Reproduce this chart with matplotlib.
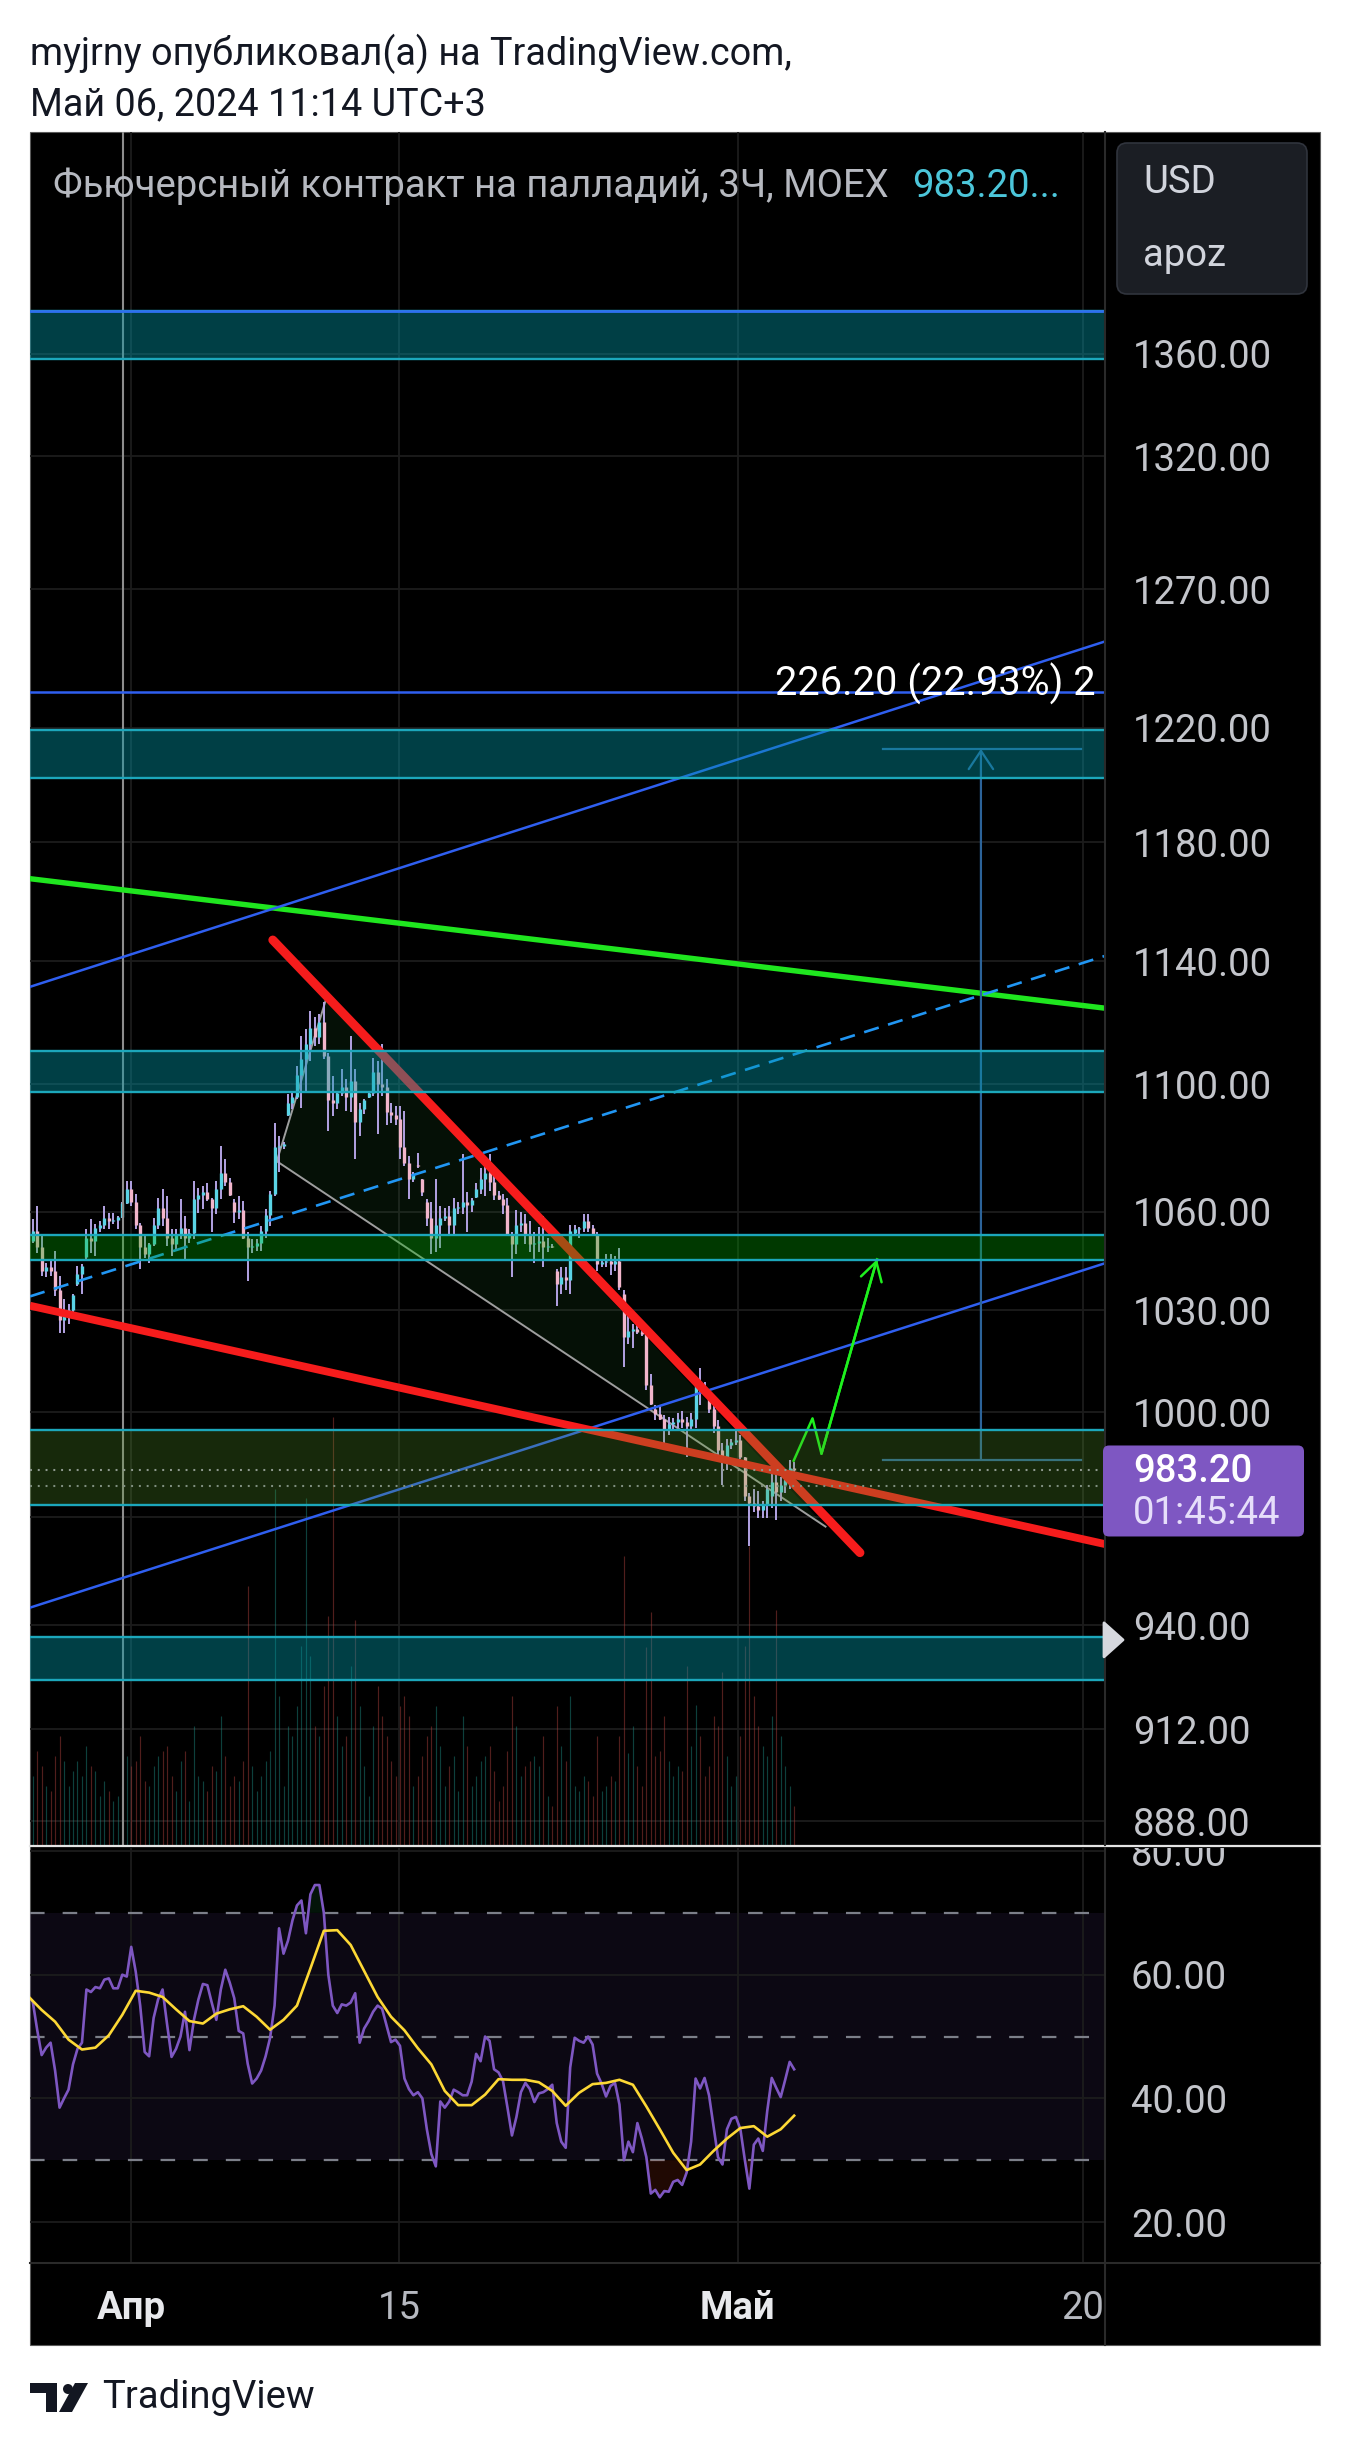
import numpy as np
import matplotlib
matplotlib.use("Agg")
import matplotlib.pyplot as plt
from matplotlib.patches import FancyBboxPatch, Polygon, Rectangle, Circle
from matplotlib.transforms import IdentityTransform
from matplotlib.ticker import NullLocator

plt.rcParams['font.family'] = ['Roboto', 'DejaVu Sans']
plt.rcParams['lines.scale_dashes'] = False

# ---------------- data ----------------
opens = [1051, 1054, 1049, 1042, 1043, 1042, 1036, 1027, 1029, 1030,
         1038, 1041, 1046, 1052, 1051, 1055, 1056, 1058, 1057, 1057.5,
         1058.3, 1062.5, 1067, 1063, 1056, 1049, 1047, 1050, 1056, 1061,
         1058, 1052, 1050, 1053, 1055, 1052, 1053.5, 1064, 1065, 1066,
         1064, 1061, 1067, 1072, 1069, 1063, 1060, 1060.5, 1052, 1049,
         1049.5, 1050.5, 1054, 1059, 1065.5, 1080, 1080.5, 1090, 1094, 1096,
         1103, 1108, 1113, 1118, 1115, 1120, 1109, 1095, 1094, 1097,
         1099, 1096, 1101, 1088, 1092, 1095.8, 1097, 1104, 1100, 1099,
         1091, 1090, 1089, 1080, 1075, 1070, 1074.5, 1070, 1063, 1058,
         1052, 1056, 1058, 1058.5, 1056, 1061, 1061.5, 1063, 1062, 1064.5,
         1067, 1070, 1072, 1069, 1065, 1064, 1062, 1053, 1050, 1056,
         1056.5, 1053, 1050, 1050.5, 1051, 1049, 1049.5, 1042, 1038, 1040,
         1039, 1053.5, 1054.5, 1054.8, 1057, 1055, 1053.2, 1044, 1044.5, 1045,
         1044, 1045, 1035, 1022, 1024, 1024.5, 1023.5, 1023, 1008, 1001,
         999.5, 998, 995, 996.5, 997, 998, 997, 996, 998, 1008,
         1007, 1004, 1001, 996, 989, 986, 990.5, 991.5, 992, 987,
         976, 974, 973, 972, 973.5, 976, 980, 977, 979, 980.5, 984]
highs = [1057.6, 1061.7, 1052.5, 1044.4, 1044.9, 1047.9, 1040.4, 1033.3, 1031.8, 1034.8,
         1043.4, 1043.9, 1054.6, 1057.6, 1056.1, 1057.1, 1061.7, 1059.6, 1059.6, 1058.6,
         1062.8, 1069.5, 1069.5, 1065.4, 1056.6, 1052.5, 1050.5, 1058.1, 1064.3, 1066.9,
         1064.8, 1054.6, 1054.6, 1063.8, 1058.6, 1054.6, 1069.5, 1067.4, 1067.9, 1068.9,
         1064.3, 1069.5, 1080.4, 1076.4, 1070.5, 1063.8, 1064.8, 1063.3, 1053.6, 1051.5,
         1051.5, 1055.6, 1060.7, 1066.4, 1087.7, 1083.5, 1081.5, 1096.8, 1097.3, 1105.9,
         1115.6, 1117.7, 1123.7, 1121.5, 1122.6, 1126.4, 1110.1, 1102.7, 1097.3, 1104.8,
         1101.6, 1115.6, 1104.8, 1094.1, 1095.2, 1097.3, 1108.5, 1107.4, 1112.8, 1101.6,
         1094.1, 1093.0, 1093.0, 1091.5, 1077.2, 1072.1, 1078.3, 1070.0, 1063.8, 1062.9,
         1070.0, 1061.7, 1061.1, 1061.7, 1064.1, 1062.9, 1077.8, 1065.9, 1064.1, 1068.9,
         1073.6, 1074.8, 1077.8, 1071.2, 1066.5, 1065.3, 1064.1, 1053.6, 1060.5, 1059.9,
         1059.3, 1057.0, 1053.6, 1055.3, 1058.7, 1051.8, 1050.0, 1042.5, 1043.0, 1043.0,
         1055.9, 1055.9, 1055.3, 1059.3, 1059.3, 1055.9, 1053.6, 1045.3, 1047.0, 1047.0,
         1046.5, 1048.8, 1036.0, 1029.2, 1025.8, 1026.4, 1024.7, 1023.5, 1011.1, 1002.0,
         1002.0, 999.3, 998.7, 998.2, 999.8, 1000.4, 998.7, 999.8, 1010.5, 1012.8,
         1008.8, 1004.3, 1003.2, 997.6, 991.1, 992.2, 992.2, 994.4, 993.3, 987.2,
         976.8, 977.9, 977.3, 974.6, 979.0, 984.4, 982.8, 981.2, 981.7, 986.1, 985.5]
lows = [1050.5, 1047.4, 1040.4, 1039.9, 1040.4, 1034.3, 1023.4, 1023.4, 1025.8, 1028.8,
        1037.3, 1034.8, 1045.4, 1047.4, 1046.4, 1053.6, 1054.6, 1054.6, 1056.1, 1054.6,
        1058.1, 1062.3, 1061.7, 1054.6, 1042.4, 1045.9, 1044.4, 1049.5, 1054.6, 1055.6,
        1049.5, 1046.4, 1048.4, 1051.5, 1044.9, 1050.5, 1051.5, 1059.6, 1060.7, 1063.3,
        1053.6, 1059.1, 1063.8, 1067.9, 1064.8, 1056.6, 1057.6, 1051.5, 1038.9, 1047.4,
        1047.9, 1047.9, 1052.0, 1055.6, 1064.8, 1072.1, 1079.4, 1089.9, 1092.0, 1095.2,
        1092.5, 1097.3, 1107.4, 1112.3, 1112.8, 1108.0, 1085.2, 1089.9, 1092.0, 1096.3,
        1091.5, 1091.0, 1076.2, 1083.5, 1090.4, 1095.7, 1096.3, 1084.1, 1096.3, 1087.1,
        1087.6, 1087.1, 1076.2, 1074.1, 1063.8, 1069.0, 1073.6, 1064.8, 1055.6, 1047.0,
        1047.6, 1048.8, 1057.0, 1052.9, 1052.9, 1059.3, 1059.3, 1053.6, 1059.9, 1064.1,
        1065.3, 1064.7, 1066.5, 1063.5, 1063.5, 1059.3, 1052.4, 1040.1, 1047.0, 1053.6,
        1050.0, 1047.6, 1044.2, 1047.6, 1043.0, 1047.6, 1048.8, 1031.4, 1034.9, 1036.0,
        1034.9, 1052.4, 1051.8, 1053.6, 1053.6, 1052.9, 1041.9, 1043.0, 1043.0, 1040.7,
        1041.9, 1036.0, 1013.3, 1020.1, 1018.9, 1022.9, 1022.4, 1006.6, 1002.0, 997.6,
        997.6, 991.1, 993.3, 994.4, 995.5, 995.5, 987.2, 995.0, 995.5, 1002.0,
        1005.5, 999.8, 993.9, 985.5, 979.0, 983.4, 989.4, 990.6, 986.6, 974.6,
        961.8, 971.4, 969.8, 969.8, 969.8, 972.5, 969.3, 974.6, 976.8, 977.9, 982.3]
closes = [1054, 1049, 1042, 1043, 1042, 1036, 1027, 1029, 1030, 1034.5,
          1041, 1043.5, 1052, 1051, 1055, 1056, 1058, 1057, 1057.5, 1058.3,
          1062.5, 1067, 1063, 1056, 1049, 1047, 1050, 1056, 1061, 1058,
          1052, 1050, 1053, 1055, 1052, 1053.5, 1064, 1065, 1066, 1064,
          1061, 1067, 1072, 1069, 1065, 1060, 1060.5, 1052, 1049, 1049.5,
          1050.5, 1054, 1059, 1065.5, 1080, 1080.5, 1081, 1094, 1096, 1103,
          1108, 1113, 1118, 1115, 1120, 1109, 1095, 1094, 1097, 1099,
          1096, 1101, 1088, 1092, 1095, 1097, 1104, 1100, 1099, 1091,
          1090, 1089, 1080, 1075, 1070, 1071.5, 1074, 1066, 1058, 1052,
          1056, 1058, 1058.5, 1056, 1061, 1061.5, 1063, 1062, 1063.5, 1067,
          1070, 1072, 1069, 1065, 1064, 1062, 1053, 1050, 1056, 1056.5,
          1053, 1050, 1050.5, 1051, 1049, 1049.5, 1049, 1038, 1040, 1039,
          1054, 1054.5, 1054.8, 1057, 1055, 1053.2, 1044, 1044.5, 1045, 1044,
          1045, 1037, 1022, 1024, 1024.5, 1023.5, 1023, 1008, 1002.5, 999.5,
          998, 995, 996.5, 997, 998, 997, 996, 998, 1008, 1007,
          1005.6, 1001, 996, 989, 986, 990.5, 991.5, 992, 987, 976,
          974, 973, 972, 973.5, 978, 980, 977, 979, 980.5, 984, 983.2]
volumes = [70, 95, 80, 60, 55, 90, 110, 85, 60, 75,
           85, 70, 100, 80, 75, 50, 65, 55, 45, 50,
           60, 90, 80, 85, 110, 65, 60, 80, 90, 95,
           100, 70, 55, 85, 95, 45, 120, 70, 65, 55,
           80, 75, 130, 90, 60, 70, 65, 85, 260, 80,
           55, 70, 85, 95, 357, 150, 60, 120, 110, 140,
           200, 348, 190, 120, 110, 160, 230, 429, 130, 100,
           110, 180, 226, 140, 80, 50, 120, 160, 130, 110,
           85, 70, 140, 150, 130, 60, 70, 90, 110, 120,
           140, 100, 60, 80, 90, 55, 130, 100, 60, 70,
           85, 90, 100, 75, 45, 60, 95, 150, 120, 70,
           80, 85, 90, 80, 110, 50, 40, 140, 100, 85,
           150, 60, 55, 70, 65, 50, 110, 55, 60, 70,
           65, 110, 290, 93, 120, 80, 60, 199, 234, 90,
           95, 130, 85, 70, 80, 75, 180, 100, 141, 110,
           70, 80, 130, 120, 174, 90, 60, 70, 110, 200,
           300, 150, 120, 100, 90, 130, 236, 110, 80, 60, 40]
rsi_values = [56.5, 55.7, 51.1, 47.0, 48.2, 49.0, 44.5, 38.5, 40.0, 41.4,
              45.5, 48.0, 49.0, 57.6, 57.2, 58.0, 57.8, 59.2, 59.4, 57.8,
              57.8, 60.0, 59.7, 64.5, 60.5, 55.0, 47.5, 46.8, 53.0, 56.0,
              57.6, 52.0, 46.7, 48.0, 50.0, 54.0, 47.8, 52.7, 56.0, 58.5,
              58.3, 55.4, 52.7, 57.6, 60.8, 58.7, 56.2, 50.9, 50.5, 45.6,
              42.4, 43.2, 44.5, 46.8, 49.8, 55.0, 67.5, 63.4, 65.5, 68.8,
              71.2, 72.0, 66.7, 73.0, 74.5, 74.5, 70.0, 60.0, 55.0, 53.8,
              55.2, 55.0, 55.5, 57.0, 49.0, 51.3, 52.5, 54.0, 55.0, 54.5,
              51.8, 49.1, 49.5, 48.5, 43.2, 41.5, 40.5, 41.0, 40.0, 35.0,
              31.0, 29.0, 39.5, 38.5, 39.5, 41.4, 41.0, 40.5, 40.5, 42.7,
              47.2, 46.0, 50.0, 49.3, 44.7, 44.2, 42.8, 38.5, 34.0, 37.0,
              41.0, 42.5, 41.5, 39.4, 40.8, 41.0, 41.5, 42.2, 36.0, 33.0,
              32.0, 45.0, 49.8, 49.3, 49.0, 50.0, 48.7, 44.0, 42.4, 40.3,
              42.0, 42.5, 39.0, 30.0, 33.0, 31.3, 36.0, 33.5, 30.5, 24.6,
              25.2, 24.0, 25.0, 24.9, 26.5, 26.8, 26.0, 28.0, 33.0, 43.2,
              41.6, 43.3, 40.5, 35.5, 30.5, 29.3, 35.0, 36.7, 37.0, 35.0,
              30.0, 25.4, 32.5, 33.5, 31.5, 38.0, 43.3, 41.7, 40.2, 43.0,
              45.9, 44.7]
ma_bars = [0, 3, 6, 9, 12, 15, 18, 21, 24, 27, 30, 33, 36, 39, 42, 45, 48, 51, 54, 57,
           60, 63, 66, 69, 72, 75, 78, 81, 84, 87, 90, 93, 96, 99, 102, 105, 108, 111, 114, 117,
           120, 123, 126, 129, 132, 135, 138, 141, 144, 147, 150, 153, 156, 159, 162, 165, 168, 171]
ma_values = [56.5, 54.3, 52.4, 49.5, 47.9, 48.2, 50.2, 53.5, 57.4, 57.1,
             56.4, 54.4, 52.5, 52.1, 53.7, 54.4, 54.9, 53.2, 51.1, 52.7,
             55.0, 61.0, 67.1, 67.2, 64.8, 60.6, 56.4, 53.2, 51.0, 48.1,
             45.5, 41.2, 38.9, 38.9, 40.6, 43.1, 43.0, 43.0, 42.6, 41.2,
             38.8, 40.9, 42.3, 42.5, 43.0, 42.2, 38.7, 35.0, 31.2, 28.4,
             29.3, 31.5, 33.5, 35.2, 35.5, 33.8, 35.0, 37.2]

price_ticks = [1360, 1320, 1270, 1220, 1180, 1140, 1100, 1060, 1030, 1000, 970, 940, 912, 888]
price_hidden = [970]
rsi_ticks = [80, 60, 40, 20]
rsi_levels = [70, 50, 30]
time_tick_bars = [23.0, 82.8, 158.4, 235.4]
time_tick_labels = ["Апр", "15", "Май", "20"]
time_tick_major = [True, False, True, False]

last_price = 983.20
countdown = "01:45:44"
prev_close = 978.8
alert_price = 936.0

zone_lows = [1357.8, 1202.4, 1097.3, 1045.1, 973.4, 925.1]
zone_highs = [1377.0, 1219.3, 1110.6, 1052.8, 994.8, 936.8]
zone_kinds = ['teal', 'teal', 'teal', 'green', 'olive', 'teal']

green_line_x, green_line_y = [0.4, 240.4], [1167.6, 1124.5]
blue_up_x, blue_up_y = [0.4, 240.4], [1131.5, 1250.9]
blue_mid_x, blue_mid_y = [0.4, 240.4], [1034.2, 1141.7]
blue_low_x, blue_low_y = [0.4, 240.4], [944.8, 1044.2]
red_low_x, red_low_y = [0.4, 240.4], [1031.4, 962.4]
red_fall_x, red_fall_y = [54.6, 185.7], [1147.0, 960.0]
tri_x, tri_y = [55.5, 66.5, 178.0], [1075.6, 1127.5, 967.3]
proj_x, proj_y = [170.9, 175.1, 177.1, 189.5], [986.0, 998.2, 988.0, 1045.4]
blue_hlines = [1232.8, 1377.0]
measure_left, measure_mid, measure_right = 190.8, 212.7, 235.0
measure_from, measure_to = 986.3, 1212.5
measure_text = "226.20 (22.93%) 2"
measure_text_x, measure_text_y = 166.7, 1231.4
vline_bar = 21.2

header1 = "myjrny опубликовал(а) на TradingView.com,"
header2 = "Май 06, 2024 11:14 UTC+3"
title = "Фьючерсный контракт на палладий, 3Ч, MOEX"
legend_items = ["USD", "apoz"]

# ---------------- figure ----------------
W, H = 1350, 2451
fig = plt.figure(figsize=(W / 100, H / 100), dpi=100)
fig.patch.set_facecolor('white')
FS = 27.5


def box(x0, y0, x1, y1):
    a = fig.add_axes([x0 / W, 1 - y1 / H, (x1 - x0) / W, (y1 - y0) / H])
    a.set_facecolor('none')
    a.set_xticks([])
    a.set_yticks([])
    for s in a.spines.values():
        s.set_visible(False)
    return a


def ftext(x, y, s, **kw):
    return fig.text(x / W, 1 - y / H, s, **kw)


def prect(x0, y0, x1, y1, **kw):
    r = Rectangle((x0, H - y1), x1 - x0, y1 - y0, transform=IdentityTransform(), **kw)
    fig.add_artist(r)
    return r


def pround(x0, y0, x1, y1, rad, **kw):
    r = FancyBboxPatch((x0, H - y1), x1 - x0, y1 - y0,
                       boxstyle=f"round,pad=0,rounding_size={rad}",
                       transform=IdentityTransform(), **kw)
    fig.add_artist(r)
    return r


# chart frame background
prect(30, 132, 1320, 2345, facecolor='black', edgecolor='#5a5a5a', lw=0.8, zorder=-1)

# header
ftext(30, 65, header1, fontsize=27.2, color='#131722', va='baseline')
ftext(30, 115, header2, fontsize=27.2, color='#131722', va='baseline')

# ---------------- price pane ----------------
ax = box(30, 132, 1105, 1846)
ax.set_yscale('log')
ax.set_ylim(881.6, 1450.4)
ax.set_xlim(0.4, 240.4)
ax.yaxis.set_minor_locator(NullLocator())
ax.set_yticks([])

for p in price_ticks:
    ax.axhline(p, color='#1c1c1c', lw=1.3, zorder=0.5)
for t in time_tick_bars:
    ax.axvline(t, color='#1c1c1c', lw=1.3, zorder=0.5)

bars = np.arange(1, len(closes) + 1)
o = np.array(opens, float)
c = np.array(closes, float)
hi = np.array(highs, float)
lo = np.array(lows, float)
up = c >= o

# volume
vol_top = 1714.0
vcol = np.where(up, '#1f8f86', '#b5433f')
ax.vlines(bars, 0, np.array(volumes) / vol_top, transform=ax.get_xaxis_transform(),
          colors=vcol, alpha=0.45, lw=0.85, zorder=1)

# triangle pattern
ax.add_patch(Polygon(list(zip(tri_x, tri_y)), closed=True, facecolor='#2e7d32',
                     alpha=0.13, edgecolor='none', zorder=1.5))
ax.plot([tri_x[1], tri_x[0], tri_x[2]], [tri_y[1], tri_y[0], tri_y[2]],
        color='#9e9e9e', lw=1.4, zorder=1.6)

# candles
body_col = np.where(up, '#5ad4e6', '#f2b6cb')
ax.vlines(bars, lo, hi, colors='#b3a3e4', lw=1.4, zorder=2)
ax.vlines(bars, np.minimum(o, c), np.maximum(o, c), colors=body_col, lw=2.4, zorder=2.1)

# drawn lines
ax.axvline(vline_bar, color='#8d8d8d', lw=1.5, zorder=3)
ax.plot(green_line_x, green_line_y, color='#1fe61f', lw=3.9, zorder=3)
ax.plot(blue_up_x, blue_up_y, color='#2f5ff0', lw=1.8, zorder=3)
ax.plot(blue_low_x, blue_low_y, color='#2f5ff0', lw=1.8, zorder=3)
ax.plot(blue_mid_x, blue_mid_y, color='#2196f3', lw=1.9, dashes=(11, 7), zorder=3)
for hv in blue_hlines:
    ax.axhline(hv, color='#2f5ff0', lw=1.8, zorder=3)
ax.plot(red_low_x, red_low_y, color='#f61c1c', lw=5.6, zorder=3.1, solid_capstyle='butt')
ax.plot(red_fall_x, red_fall_y, color='#f61c1c', lw=6.4, zorder=3.2, solid_capstyle='round')

# projection path
ax.plot(proj_x, proj_y, color='#1ef01e', lw=1.8, zorder=3.3)
ax.annotate('', xy=(proj_x[-1], proj_y[-1]), xytext=(proj_x[-2], proj_y[-2]),
            arrowprops=dict(arrowstyle='->,head_length=0.6,head_width=0.35', color='#1ef01e',
                            lw=1.8, shrinkA=0, shrinkB=0, mutation_scale=22), zorder=3.3)

# measurement
mcol = '#2c6399'
ax.plot([measure_left, measure_right], [measure_from, measure_from], color=mcol, lw=1.6, zorder=3.4)
ax.plot([measure_left, measure_right], [measure_to, measure_to], color=mcol, lw=1.6, zorder=3.4)
ax.annotate('', xy=(measure_mid, measure_to), xytext=(measure_mid, measure_from),
            arrowprops=dict(arrowstyle='->,head_length=0.6,head_width=0.4', color=mcol,
                            lw=1.6, shrinkA=0, shrinkB=0, mutation_scale=22), zorder=3.4)

# zones on top (semi-transparent)
zone_style = {'teal': ('#0097a7', 0.42), 'green': ('#00b400', 0.32), 'olive': ('#5aa02c', 0.26)}
for zl, zh, zk in zip(zone_lows, zone_highs, zone_kinds):
    fc, al = zone_style[zk]
    ax.axhspan(zl, zh, facecolor=fc, alpha=al, lw=0, zorder=4)
    ax.axhline(zl, color='#1ca7bb', lw=1.7, zorder=4.1)
    ax.axhline(zh, color='#1ca7bb', lw=1.7, zorder=4.1)
ax.axhline(blue_hlines[1], color='#2f6df0', lw=1.8, zorder=4.2)

# price lines (dotted)
ax.axhline(last_price, color='#8f9a8f', lw=1.5, dashes=(1.4, 4.2), zorder=5)
ax.axhline(prev_close, color='#7f8f7f', lw=1.5, dashes=(1.4, 4.2), zorder=5)

ax.text(measure_text_x, measure_text_y, measure_text, color='white', fontsize=28.5,
        va='baseline', ha='left', clip_on=True, zorder=6)

# title inside chart
t1 = ftext(53, 197, title, fontsize=FS, color='#b6b9c0', va='baseline')
fig.canvas.draw()
bb = t1.get_window_extent()
fig.text((bb.x1 + 24) / W, 1 - 197 / H, f"{last_price:.2f}...", fontsize=FS,
         color='#4cc6da', va='baseline')

# ---------------- price scale ----------------
axl = box(1105, 132, 1320, 1846)
axl.set_yscale('log')
axl.set_ylim(ax.get_ylim())
axl.yaxis.set_minor_locator(NullLocator())
axl.set_yticks([])
for p in price_ticks:
    if p in price_hidden:
        continue
    axl.text(0.13, p, f"{p:.2f}", transform=axl.get_yaxis_transform(), fontsize=FS,
             color='#c3c5cb', va='center_baseline', ha='left', clip_on=True)

# current price label
ypx = H - ax.transData.transform((1, last_price))[1]
pround(1103, ypx - 25, 1304, ypx + 66, 6, facecolor='#7e57c2', edgecolor='none', zorder=6)
ftext(1133, ypx + 11.5, f"{last_price:.2f}", fontsize=FS, color='white', va='baseline',
      zorder=7, fontweight='medium')
ftext(1133, ypx + 53.5, countdown, fontsize=FS, color='#e6defa', va='baseline', zorder=7)

# alert marker
apx = H - ax.transData.transform((1, alert_price))[1]
fig.add_artist(Polygon([(1104, H - apx + 17), (1123, H - apx), (1104, H - apx - 17)],
                       closed=True, transform=IdentityTransform(), facecolor='#d6d8de',
                       edgecolor='#d6d8de', lw=2, joinstyle='round', zorder=6))

# legend box
pround(1117, 143, 1307, 294, 10, facecolor='#1b1e24', edgecolor='#30343d', lw=1.2, zorder=6)
ftext(1143, 193, legend_items[0], fontsize=FS, color='#d1d4dc', va='baseline', zorder=7)
ftext(1143, 266, legend_items[1], fontsize=FS, color='#d1d4dc', va='baseline', zorder=7)

# ---------------- RSI pane ----------------
axr = box(30, 1848, 1105, 2263)
axr.set_xlim(ax.get_xlim())
axr.set_ylim(13.37, 80.49)
axr.axhspan(rsi_levels[2], rsi_levels[0], color='#7e57c2', alpha=0.1, lw=0, zorder=0.2)
for v in rsi_ticks:
    axr.axhline(v, color='#1c1c1c', lw=1.3, zorder=0.5)
for t in time_tick_bars:
    axr.axvline(t, color='#1c1c1c', lw=1.3, zorder=0.5)
for v in rsi_levels:
    axr.axhline(v, color='#7c7f89', lw=1.6, dashes=(10.5, 13), zorder=1)
rx = np.arange(len(rsi_values))
rv = np.array(rsi_values)
axr.fill_between(rx, rv, rsi_levels[2], where=rv < rsi_levels[2], interpolate=True,
                 color='#ff4a1a', alpha=0.13, lw=0, zorder=1.5)
axr.fill_between(rx, rv, rsi_levels[0], where=rv > rsi_levels[0], interpolate=True,
                 color='#22c55e', alpha=0.10, lw=0, zorder=1.5)
axr.plot(rx, rv, color='#7e57c2', lw=1.9, zorder=2)
axr.plot(ma_bars, ma_values, color='#fdd835', lw=1.9, zorder=2.1)

axrl = box(1105, 1848, 1320, 2263)
axrl.set_ylim(axr.get_ylim())
for v in rsi_ticks:
    axrl.text(0.12, v, f"{v:.2f}", transform=axrl.get_yaxis_transform(), fontsize=FS,
              color='#c3c5cb', va='center_baseline', ha='left', clip_on=True)

# ---------------- time axis ----------------
axt = box(30, 2263, 1105, 2345)
axt.set_xlim(ax.get_xlim())
for t, lab, major in zip(time_tick_bars, time_tick_labels, time_tick_major):
    axt.text(t, 0.32, lab, transform=axt.get_xaxis_transform(), fontsize=FS,
             color='#e8e9ec' if major else '#b6b9c0', fontweight='bold' if major else 'normal',
             ha='center', va='baseline', clip_on=True)

# separators
fig.add_artist(plt.Line2D([30, 1320], [H - 1846, H - 1846], transform=IdentityTransform(),
                          color='#e4e4e4', lw=1.6, zorder=5))
fig.add_artist(plt.Line2D([30, 1320], [H - 2263, H - 2263], transform=IdentityTransform(),
                          color='#2a2a2a', lw=1.5, zorder=5))
fig.add_artist(plt.Line2D([1105, 1105], [H - 132, H - 1845], transform=IdentityTransform(),
                          color='#2a2a2a', lw=1.5, zorder=5))
fig.add_artist(plt.Line2D([1105, 1105], [H - 1848, H - 2345], transform=IdentityTransform(),
                          color='#2a2a2a', lw=1.5, zorder=5))

# ---------------- footer logo ----------------
prect(30, 2383, 57, 2393, facecolor='#131722', edgecolor='none', zorder=5)
prect(46, 2383, 57, 2412, facecolor='#131722', edgecolor='none', zorder=5)
fig.add_artist(Circle((68, H - 2389), 5, transform=IdentityTransform(), facecolor='#131722',
                      edgecolor='none', zorder=5))
fig.add_artist(Polygon([(75, H - 2383), (88, H - 2383), (72, H - 2412), (59, H - 2412)], closed=True,
                       transform=IdentityTransform(), facecolor='#131722', edgecolor='none', zorder=5))
ftext(102, 2408, "TradingView", fontsize=FS, color='#131722', va='baseline')

fig.savefig('out.png', dpi=100, facecolor='white')
